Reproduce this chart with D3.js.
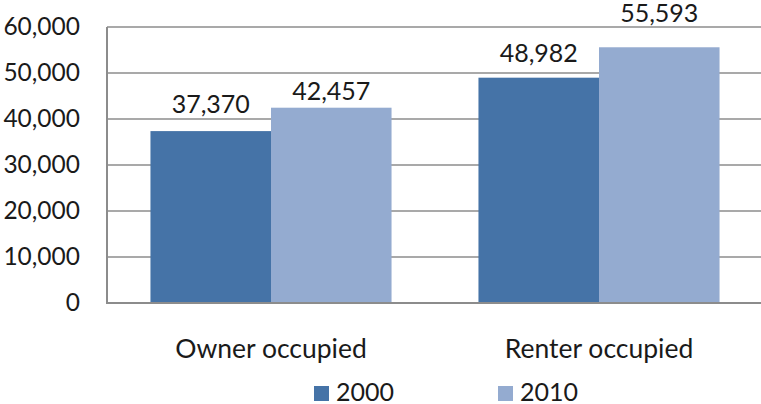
<!DOCTYPE html>
<html>
<head>
<meta charset="utf-8">
<script src="https://cdn.jsdelivr.net/npm/d3@7"></script>
<style>
  html, body { margin: 0; padding: 0; background: #fff; }
  svg { display: block; }
  text { font-family: Lato, "Open Sans", sans-serif; fill: #1a1a1a; }
</style>
</head>
<body>
<svg id="chart" width="761" height="404"></svg>
<script>
// ---- data ----
const categories = ["Owner occupied", "Renter occupied"];
const seriesNames = ["2000", "2010"];
const values2000 = [37370, 48982];
const values2010 = [42457, 55593];
const yTicks = [0, 10000, 20000, 30000, 40000, 50000, 60000];

// ---- layout ----
const W = 761, H = 404;
const plot = { left: 107, right: 763, top: 27, bottom: 303 };
const colors = ["#4573a7", "#94abd0"];
const labelLift = [[18, 8], [16, 25]]; // gap between value label baseline and bar top

const svg = d3.select("#chart");

const x0 = d3.scaleBand().domain(categories).range([plot.left, plot.right]).paddingInner(0.265).paddingOuter(0.1325);
const x1 = d3.scaleBand().domain(seriesNames).range([0, x0.bandwidth()]).padding(0);
const y = d3.scaleLinear().domain([0, 60000]).range([plot.bottom, plot.top]);

const table = categories.map((c, i) => ({ cat: c, vals: [values2000[i], values2010[i]] }));

// gridlines
svg.append("g").selectAll("line").data(yTicks.filter(t => t > 0)).join("line")
  .attr("x1", plot.left).attr("x2", W)
  .attr("y1", d => y(d)).attr("y2", d => y(d))
  .attr("stroke", "#8c8c8c").attr("stroke-width", 1.5);

// bars
const groups = svg.append("g").selectAll("g").data(table).join("g")
  .attr("transform", d => `translate(${x0(d.cat)},0)`);
groups.selectAll("rect").data(d => d.vals.map((v, j) => ({ v, s: seriesNames[j], j }))).join("rect")
  .attr("x", d => x1(d.s)).attr("width", x1.bandwidth())
  .attr("y", d => y(d.v)).attr("height", d => y(0) - y(d.v))
  .attr("fill", d => colors[d.j]);

// value labels
groups.each(function (d, i) {
  d3.select(this).selectAll("text.val").data(d.vals).join("text")
    .attr("class", "val")
    .attr("x", (v, j) => x1(seriesNames[j]) + x1.bandwidth() / 2)
    .attr("y", (v, j) => y(v) - labelLift[i][j])
    .attr("text-anchor", "middle")
    .style("font-size", "25px")
    .text(v => d3.format(",")(v));
});

// y axis
const yAxis = d3.axisLeft(y).tickValues(yTicks).tickSize(0).tickPadding(27).tickFormat(d3.format(","));
const ya = svg.append("g").attr("transform", `translate(${plot.left},0)`).call(yAxis);
ya.select(".domain").remove();
ya.selectAll("text").style("font-size", "24.5px").style("font-family", "Lato, 'Open Sans', sans-serif").attr("fill", "#1a1a1a");

// axis lines
svg.append("line").attr("x1", plot.left).attr("x2", plot.left).attr("y1", plot.top).attr("y2", plot.bottom + 1)
  .attr("stroke", "#8c8c8c").attr("stroke-width", 2);
svg.append("line").attr("x1", plot.left).attr("x2", W).attr("y1", plot.bottom).attr("y2", plot.bottom)
  .attr("stroke", "#8c8c8c").attr("stroke-width", 2);

// x axis labels
const xAxis = d3.axisBottom(x0).tickSize(0).tickPadding(36);
const xa = svg.append("g").attr("transform", `translate(0,${plot.bottom})`).call(xAxis);
xa.select(".domain").remove();
xa.selectAll("text").style("font-size", "26.5px").style("font-family", "Lato, 'Open Sans', sans-serif").attr("fill", "#1a1a1a");

// legend
const legendX = [314, 498];
const leg = svg.append("g").selectAll("g").data(seriesNames).join("g")
  .attr("transform", (d, i) => `translate(${legendX[i]},386)`);
leg.append("rect").attr("width", 15).attr("height", 15).attr("fill", (d, i) => colors[i]);
leg.append("text").attr("x", 22).attr("y", 15).style("font-size", "25px").text(d => d);
</script>
</body>
</html>
